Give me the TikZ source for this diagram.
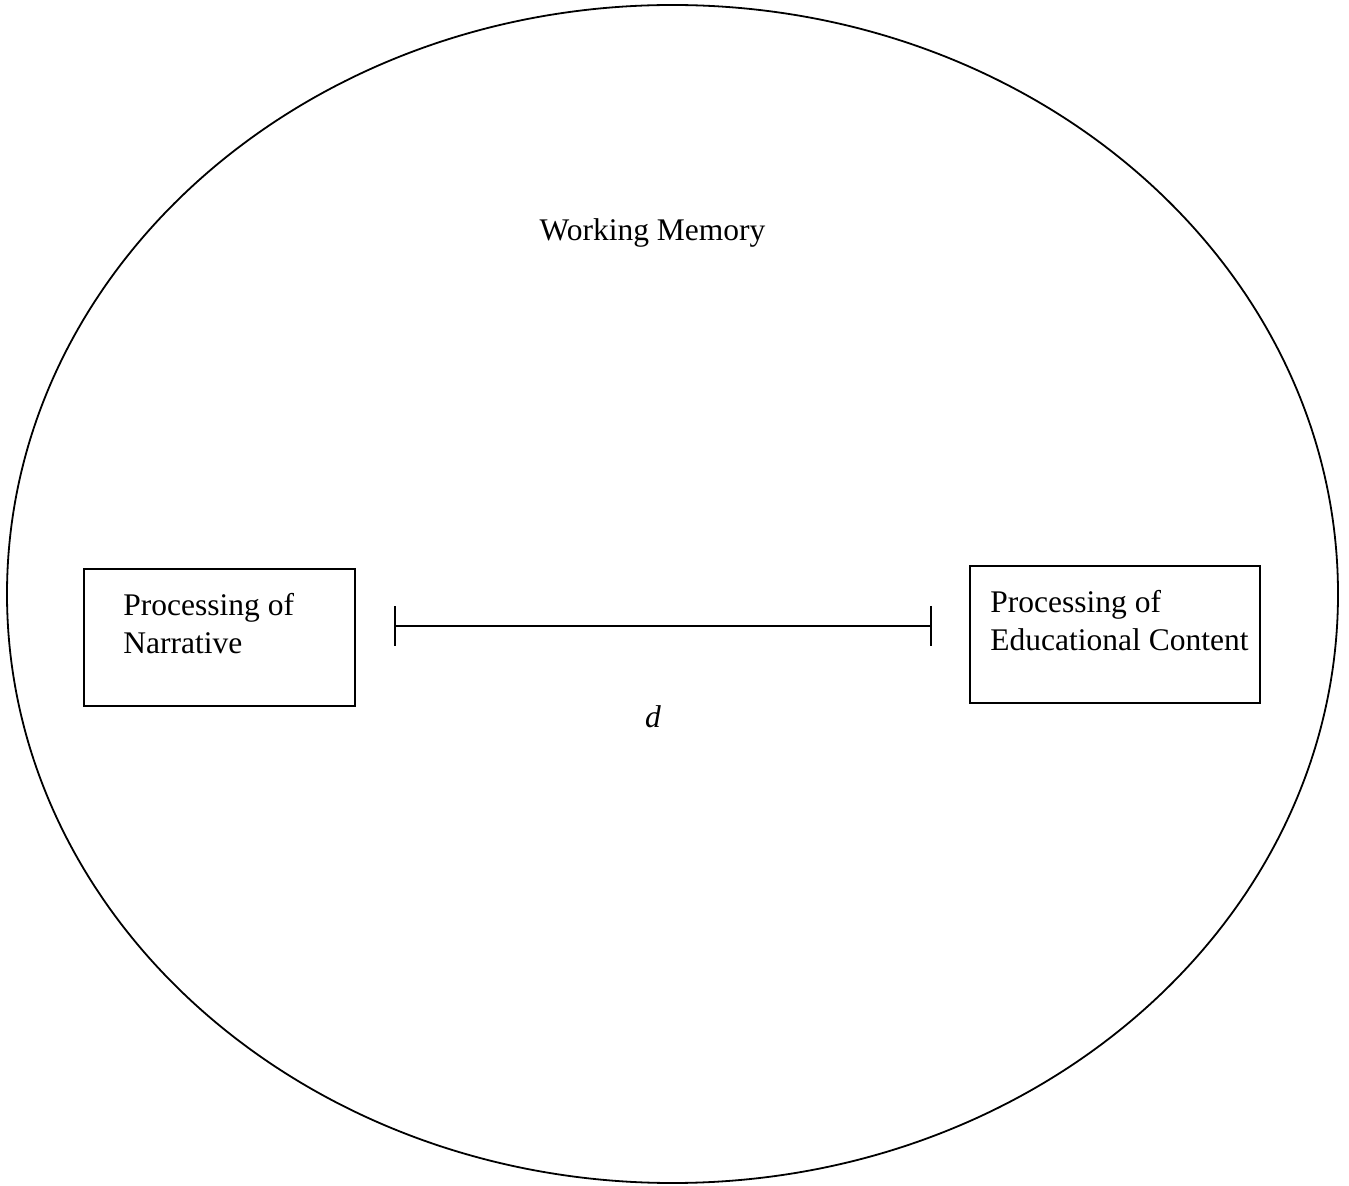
\documentclass[tikz,border=0pt]{standalone}
\usepackage{fontspec}
\setmainfont{Liberation Serif}
\usetikzlibrary{shapes.geometric,arrows.meta,positioning}
\tikzset
{
    memory/.style   = {ellipse, draw=black, line width=0.9pt, minimum width=665.5pt, minimum height=589pt, inner sep=0pt},
    procbox/.style  = {rectangle, draw=black, line width=0.9pt, inner sep=0pt},
    proctext/.style = {align=left, inner sep=0pt, anchor=base west, font=\fontsize{15.75}{19}\selectfont},
    plain/.style    = {inner sep=0pt, anchor=base, font=\fontsize{15.75}{19}\selectfont},
    gapline/.style  = {line width=0.9pt, {Bar[width=20pt,line width=0.9pt]}-{Bar[width=20pt,line width=0.9pt]}}
}

\begin{document}
\begin{tikzpicture}[x=0.5pt, y=-0.5pt]
	\useasboundingbox (0,0) rectangle (1349,1186);
	\node[memory] (wm) at (672.5,594) {};
	\node[plain] (wmlabel) at (652.5,241) {Working Memory};
	% the two processing boxes
	\node[procbox, minimum width=135.5pt, minimum height=68.5pt] (narr) at (219.5,637.5) {};
	\node[proctext] (narrtext) at (123,654) {Processing of\\Narrative};
	\node[procbox, minimum width=145pt, minimum height=68.5pt] (edu) at (1115,634.5) {};
	\node[proctext] (edutext) at (990,651) {Processing of\\Educational Content};
	% distance between them
	\coordinate (dleft) at (394,626);
	\coordinate (dright) at (932,626);
	\draw[gapline] (dleft) -- (dright);
	\node[plain, font=\fontsize{15.75}{19}\selectfont\itshape] (dlabel) at (653,728) {d};
\end{tikzpicture}
\end{document}
